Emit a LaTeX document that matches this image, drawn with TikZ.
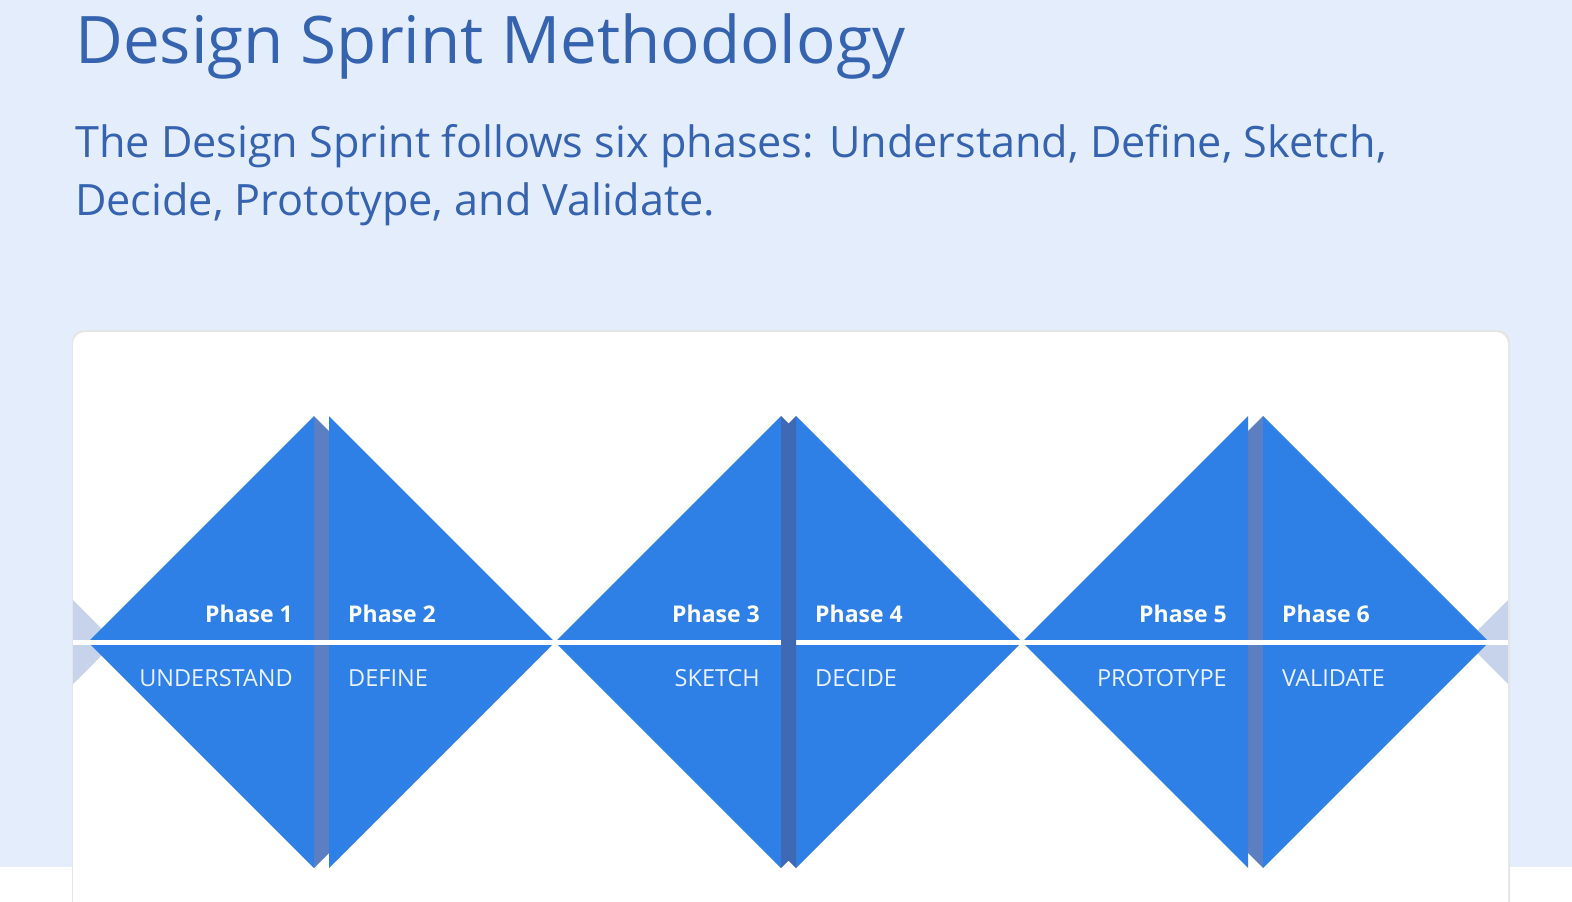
\documentclass[tikz,border=0pt]{standalone}
\usepackage{fontspec}
\setmainfont{Open Sans}
\definecolor{bgblue}{HTML}{E4EDFB}
\definecolor{titleblue}{HTML}{3563AF}
\definecolor{triblue}{HTML}{2F80E6}
\definecolor{stripgrey}{HTML}{5B7FC0}
\definecolor{stripdark}{HTML}{3F68B5}
\definecolor{edgegrey}{HTML}{C6D3EA}
\definecolor{labelwhite}{HTML}{EAF2FF}
\tikzset{
  tri/.style={fill=triblue},
  phaselbl/.style={inner sep=0pt, text=white, font=\fontsize{23}{26}\selectfont\bfseries},
  namelbl/.style={inner sep=0pt, text=labelwhite, font=\fontsize{23.5}{26}\selectfont},
}
\begin{document}
\begin{tikzpicture}[x=1pt,y=-1pt]
\useasboundingbox (0,0) rectangle (1572,902);
\fill[bgblue] (0,0) rectangle (1572,867);
\fill[white] (0,867) rectangle (1572,902);
% card
\fill[black!10, rounded corners=12pt] (72,330) rectangle (1510,930);
\fill[white, rounded corners=12pt] (73,332) rectangle (1508,930);
% title
\node[anchor=base west, inner sep=0pt, text=titleblue, font=\fontsize{65.6}{70}\selectfont] (title) at (75,63) {Design Sprint Methodology};
\node[anchor=base west, inner sep=0pt, text=titleblue, font=\fontsize{43.2}{50}\selectfont] (sub1) at (75,157) {The Design Sprint follows six phases: Understand, Define, Sketch,};
\node[anchor=base west, inner sep=0pt, text=titleblue, font=\fontsize{43.2}{50}\selectfont] (sub2) at (75,215) {Decide, Prototype, and Validate.};
% edge shapes
\begin{scope}
\clip (73,332) rectangle (1508,902);
\fill[edgegrey] (73,600) -- (115,642) -- (73,684) -- cycle;
\fill[edgegrey] (1508,600) -- (1466,642) -- (1508,684) -- cycle;
\end{scope}
% shadow strips (pairs 1 and 3)
\fill[stripgrey] (314,416) -- (540,642) -- (314,868) -- cycle;
\fill[stripgrey] (1037,642) -- (1263,416) -- (1263,868) -- cycle;
% triangles
\foreach \ox in {88,555,1022}{
  \fill[tri] (\ox,642) -- (\ox+226,416) -- (\ox+226,868) -- cycle;
  \fill[tri] (\ox+241,416) -- (\ox+467,642) -- (\ox+241,868) -- cycle;
}
% white line
\fill[white] (73,640) rectangle (1508,645);
% pair 2 strip, union of the two shadows
\fill[stripdark] (781,416) -- (788.5,423.5) -- (796,416) -- (796,868) -- (788.5,860.5) -- (781,868) -- cycle;
% labels
\node[phaselbl, anchor=base east] (p1) at (293,622) {Phase 1};
\node[phaselbl, anchor=base west] (p2) at (348,622) {Phase 2};
\node[phaselbl, anchor=base east] (p3) at (760,622) {Phase 3};
\node[phaselbl, anchor=base west] (p4) at (815,622) {Phase 4};
\node[phaselbl, anchor=base east] (p5) at (1227,622) {Phase 5};
\node[phaselbl, anchor=base west] (p6) at (1282,622) {Phase 6};
\node[namelbl, anchor=base east] (n1) at (293,686) {UNDERSTAND};
\node[namelbl, anchor=base west] (n2) at (348,686) {DEFINE};
\node[namelbl, anchor=base east] (n3) at (760,686) {SKETCH};
\node[namelbl, anchor=base west] (n4) at (815,686) {DECIDE};
\node[namelbl, anchor=base east] (n5) at (1227,686) {PROTOTYPE};
\node[namelbl, anchor=base west] (n6) at (1282,686) {VALIDATE};
\end{tikzpicture}
\end{document}
